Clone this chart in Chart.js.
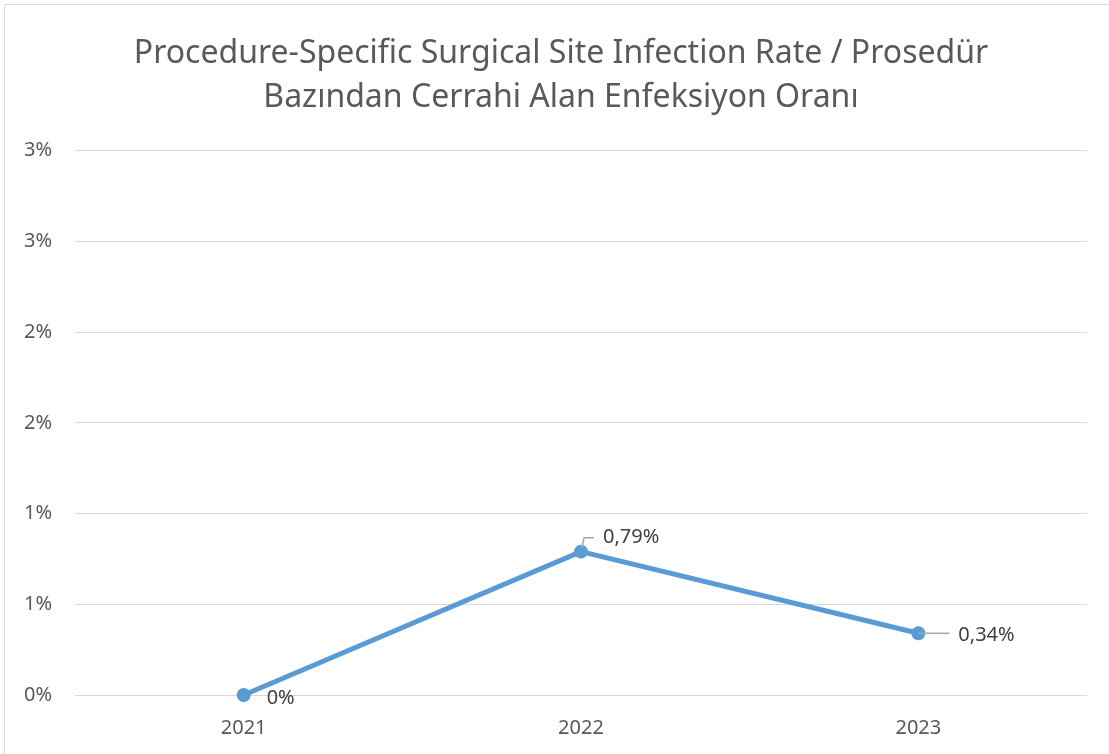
<!DOCTYPE html>
<html>
<head>
<meta charset="utf-8">
<script src="https://cdn.jsdelivr.net/npm/chart.js@4"></script>
<style>
  html, body { margin: 0; padding: 0; background: #fff; }
  #wrap { width: 1109px; height: 754px; position: relative; }
</style>
</head>
<body>
<div id="wrap"><canvas id="myChart" width="1109" height="754"></canvas></div>
<script>
const years = ["2021", "2022", "2023"];
const rates = [0, 0.79, 0.34];
const rateLabels = ["0%", "0,79%", "0,34%"];
const titleLines = [
  "Procedure-Specific Surgical Site Infection Rate / Prosedür",
  "Bazından Cerrahi Alan Enfeksiyon Oranı"
];

const FONT = "'Noto Sans', sans-serif";
const GREY = "#595959";

// outer frame like the office chart border
const framePlugin = {
  id: "frame",
  beforeDraw(chart) {
    const c = chart.ctx;
    c.save();
    c.fillStyle = "#fff";
    c.fillRect(0, 0, chart.width, chart.height);
    c.strokeStyle = "#d9d9d9";
    c.lineWidth = 1;
    c.strokeRect(4.5, 4.5, chart.width + 20, chart.height + 20);
    c.restore();
  }
};

// value labels with small leader lines
const labelPlugin = {
  id: "valueLabels",
  afterDatasetsDraw(chart, args, opts) {
    const c = chart.ctx;
    const pts = chart.getDatasetMeta(0).data;
    c.save();
    c.font = "20px " + FONT;
    c.fillStyle = "#404040";
    c.textBaseline = "middle";
    c.textAlign = "left";
    pts.forEach((p, i) => {
      const o = opts.offsets[i];
      const tx = p.x + o.dx, ty = p.y + o.dy;
      if (o.leader) {
        c.strokeStyle = "#a6a6a6";
        c.lineWidth = 1.5;
        c.beginPath();
        if (o.dy < -5) {
          c.moveTo(p.x + 1, p.y - 4);
          c.lineTo(p.x + 3, ty);
          c.lineTo(tx - 9, ty);
        } else {
          c.moveTo(p.x, p.y);
          c.lineTo(tx - 9, p.y);
        }
        c.stroke();
      }
      c.fillText(rateLabels[i], tx, ty);
    });
    c.restore();
  }
};

const ctx = document.getElementById("myChart");

const config = {
  type: "line",
  data: {
    labels: years,
    datasets: [{
      data: rates,
      borderColor: "#5B9BD5",
      backgroundColor: "#5B9BD5",
      borderWidth: 5,
      pointRadius: 7,
      pointHoverRadius: 7,
      pointBorderWidth: 0,
      tension: 0,
      clip: false
    }]
  },
  options: {
    responsive: false,
    animation: false,
    layout: { padding: { left: 13, right: 0, top: 0, bottom: 0 } },
    plugins: {
      legend: { display: false },
      tooltip: { enabled: false },
      title: {
        display: true,
        text: titleLines,
        color: GREY,
        font: { family: FONT, size: 32, weight: "normal", lineHeight: 1.4 },
        padding: { top: 31, bottom: 30 }
      },
      valueLabels: {
        offsets: [
          { dx: 23, dy: 3, leader: false },
          { dx: 22, dy: -14, leader: true },
          { dx: 40, dy: 2, leader: true }
        ]
      }
    },
    scales: {
      x: {
        offset: true,
        grid: { display: false },
        border: { display: false },
        ticks: { color: GREY, font: { family: FONT, size: 20 }, padding: 13 },
        afterFit(scale) { scale.height = 59; }
      },
      y: {
        min: 0,
        max: 3,
        border: { display: false },
        grid: { color: "#d9d9d9", lineWidth: 1, drawTicks: false },
        ticks: {
          stepSize: 0.5,
          color: GREY,
          font: { family: FONT, size: 20 },
          padding: 23,
          callback: (v) => Math.round(v) + "%"
        },
        afterFit(scale) { scale.width = 62; }
      },
      // empty right gutter
      yRight: {
        position: "right",
        min: 0,
        max: 3,
        border: { display: false },
        grid: { display: false },
        ticks: { display: false },
        afterFit(scale) { scale.width = 22; }
      }
    }
  },
  plugins: [framePlugin, labelPlugin]
};

const myChart = new Chart(ctx, config);
</script>
</body>
</html>
